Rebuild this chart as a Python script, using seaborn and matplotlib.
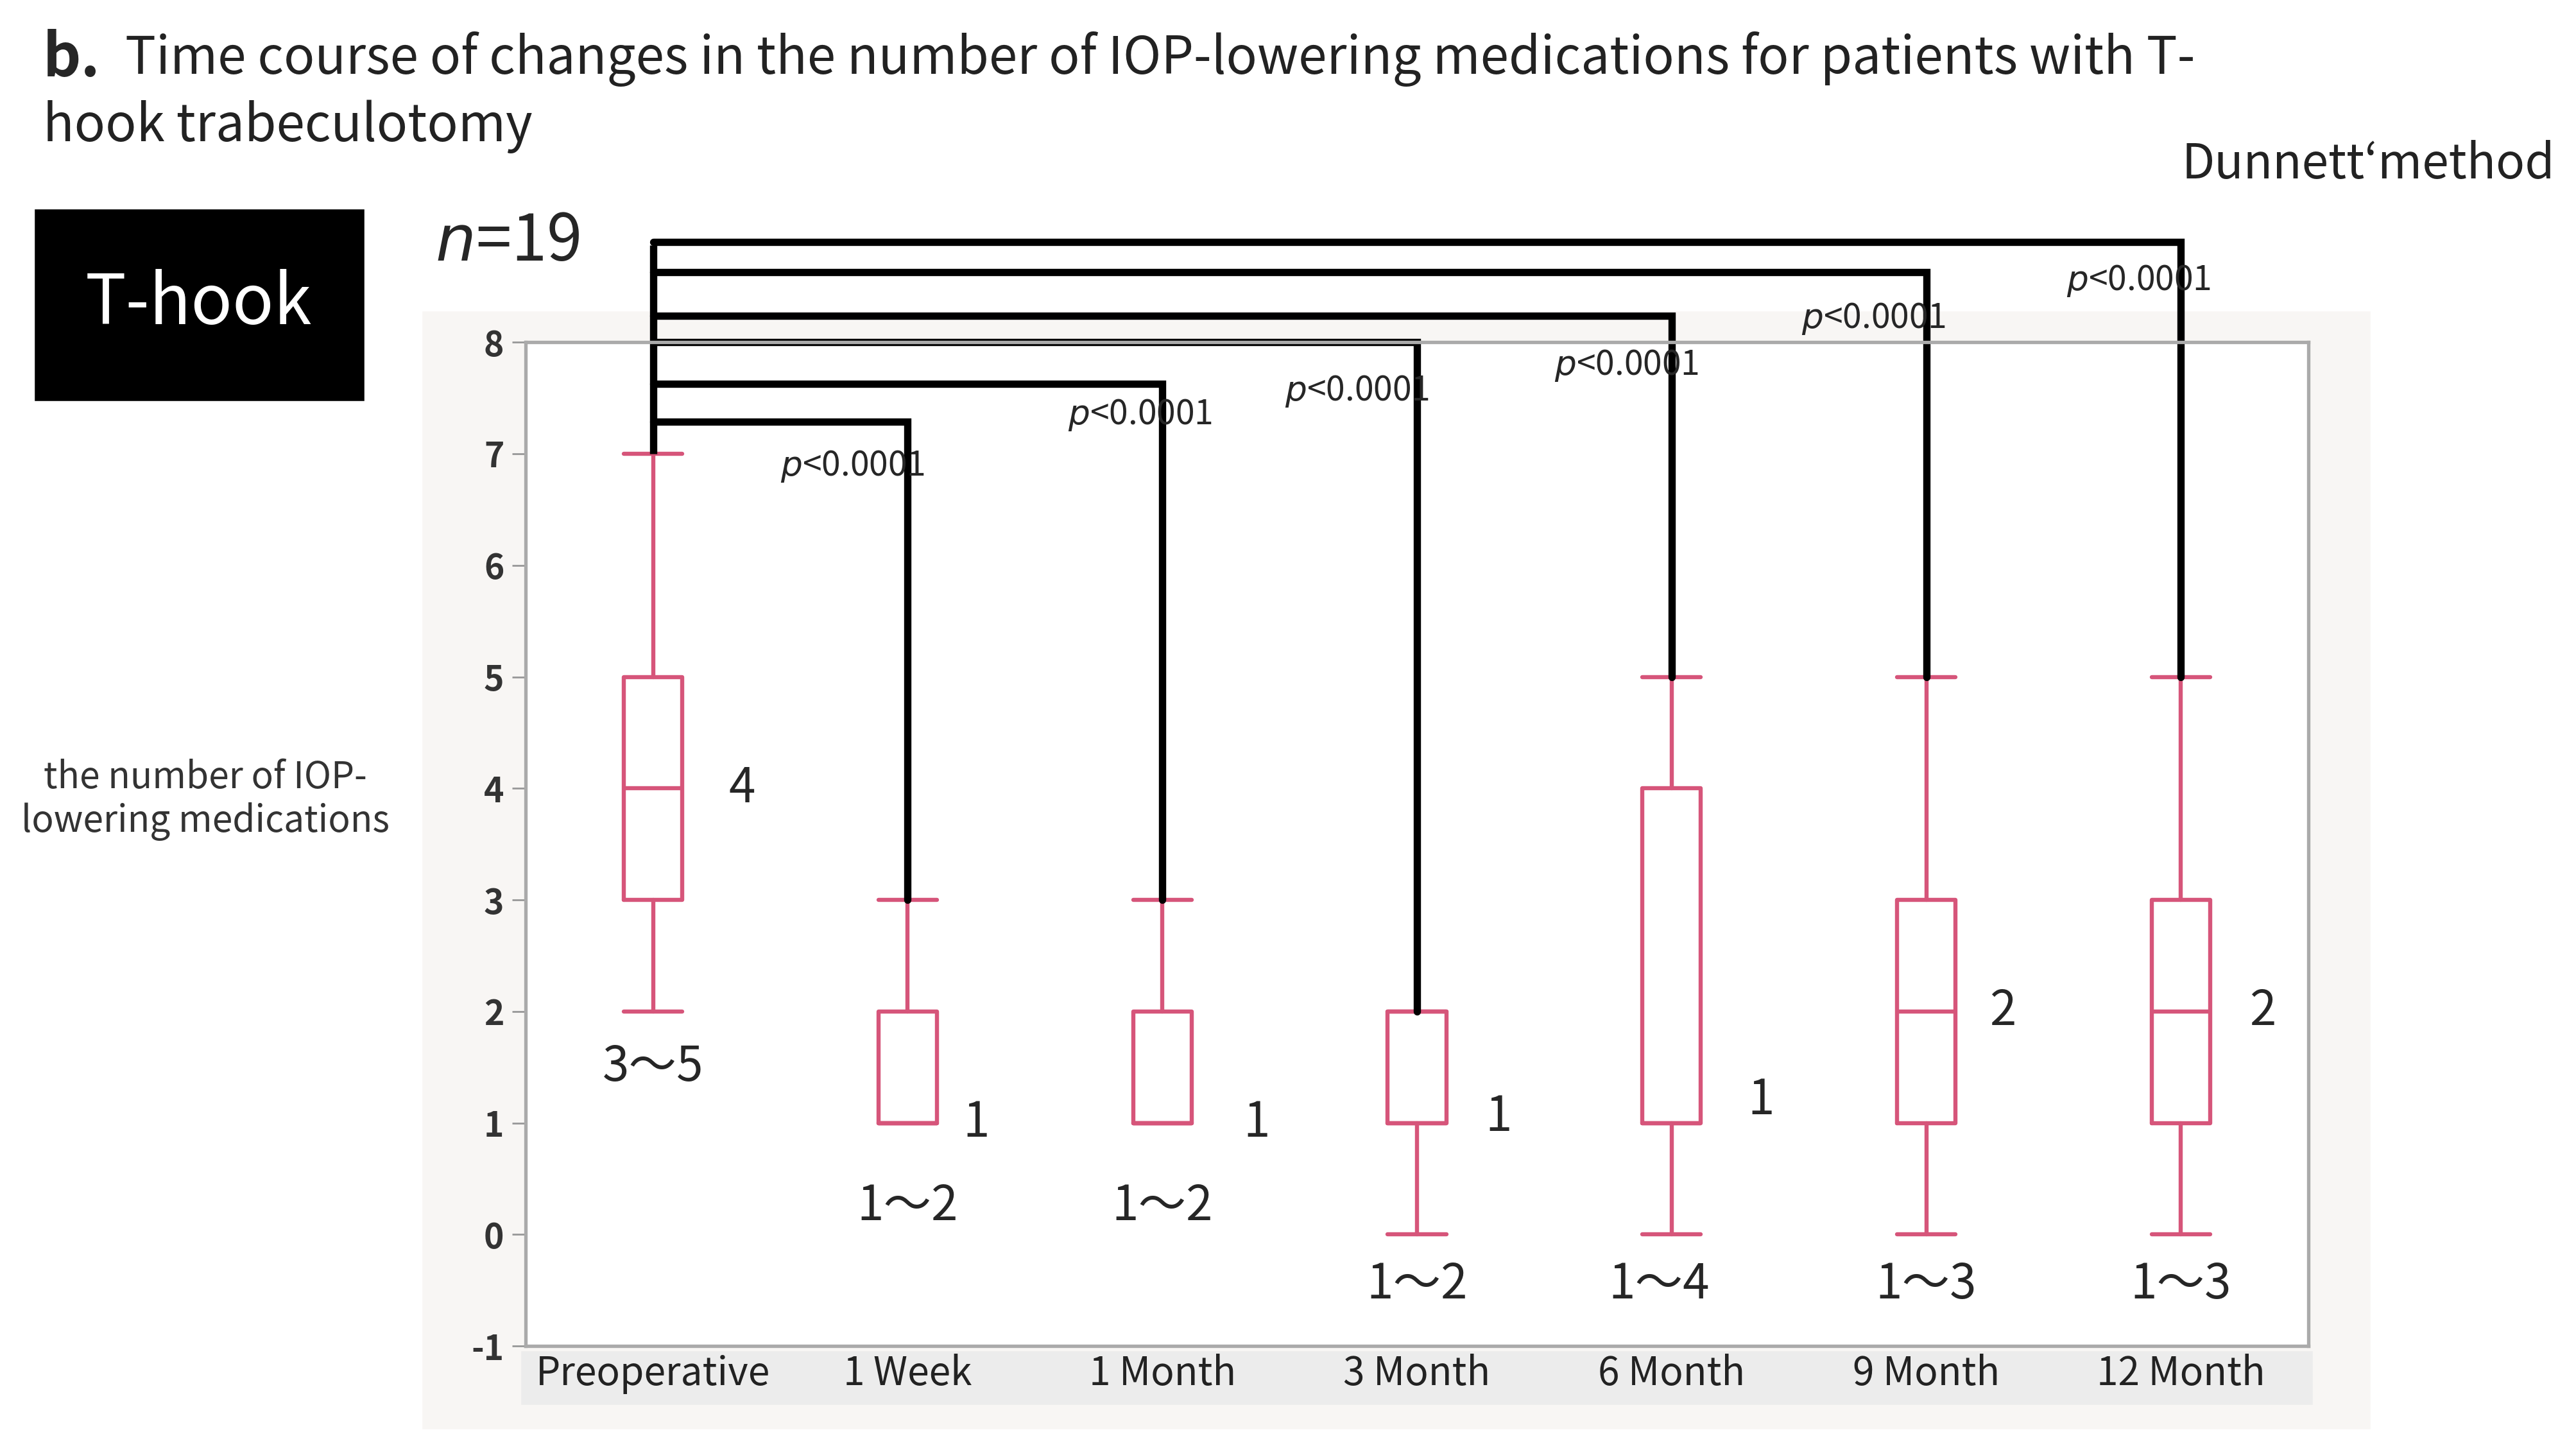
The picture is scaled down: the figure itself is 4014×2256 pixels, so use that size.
import matplotlib
matplotlib.use("Agg")
import matplotlib.pyplot as plt
import seaborn as sns
from matplotlib.patches import Rectangle

groups = ["Preoperative", "1 Week", "1 Month", "3 Month", "6 Month", "9 Month", "12 Month"]
whislo = [2, 1, 1, 0, 0, 0, 0]
q1 = [3, 1, 1, 1, 1, 1, 1]
med = [4, 1, 1, 1, 1, 2, 2]
q3 = [5, 2, 2, 2, 4, 3, 3]
whishi = [7, 3, 3, 2, 5, 5, 5]
med_labels = ["4", "1", "1", "1", "1", "2", "2"]
iqr_labels = ["3〜5", "1〜2", "1〜2", "1〜2", "1〜4", "1〜3", "1〜3"]
bracket_y = [7.29, 7.63, 8.0, 8.24, 8.63, 8.9]
p_labels = ["p<0.0001"] * 6
p_pos = [(0.5, 6.89), (1.63, 7.35), (2.48, 7.56), (3.54, 7.79), (4.51, 8.21), (5.55, 8.55)]
med_pos = [(0.35, 4), (1.27, 1.0), (2.37, 1.0), (3.32, 1.05), (4.35, 1.2), (5.3, 2), (6.32, 2)]
iqr_pos = [(0, 1.5), (1, 0.25), (2, 0.25), (3, -0.45), (3.95, -0.45), (5, -0.45), (6, -0.45)]

sns.set_style("white")
plt.rcParams['font.family'] = ['Noto Sans CJK JP', 'DejaVu Sans']
pink = "#d6557a"

fig = plt.figure(figsize=(15.68, 8.8125), dpi=256)
fig.add_artist(Rectangle((258/1568, 1-868/880), (1442-258)/1568, (868-190)/880,
                         transform=fig.transFigure, color="#f8f6f4", zorder=-2))
fig.add_artist(Rectangle((318/1568, 1-853/880), (1407-318)/1568, (853-822)/880,
                         transform=fig.transFigure, color="#ececec", zorder=-1))
ax = fig.add_axes([320/1568, 1-818/880, (1405-320)/1568, (818-208)/880])
ax.set_zorder(1)
ax.set_facecolor("white")

stats = [dict(whislo=a, q1=b, med=c, q3=d, whishi=e, label=g)
         for a, b, c, d, e, g in zip(whislo, q1, med, q3, whishi, groups)]
ax.bxp(stats, positions=range(len(groups)), widths=0.23, showfliers=False,
       boxprops=dict(color=pink, lw=1.8), whiskerprops=dict(color=pink, lw=1.8),
       capprops=dict(color=pink, lw=1.8), medianprops=dict(color=pink, lw=1.8),
       capwidths=0.23)
ax.set_ylim(-1, 8)
ax.set_xlim(-0.5, 6.5)
ax.set_yticks(range(-1, 9))
ax.set_yticklabels([str(v) for v in range(-1, 9)], fontsize=15, fontweight="bold", color="#333")
ax.set_xticklabels(groups, fontsize=17, color="#222")
ax.tick_params(axis="y", length=6, color="#999", left=True)
ax.tick_params(axis="x", length=0)
for s in ax.spines.values():
    s.set_color("#aaaaaa"); s.set_linewidth(1.5)

for (x, y), t in zip(med_pos, med_labels):
    ax.text(x, y, t, fontsize=21, ha="center", va="center")
for (x, y), t in zip(iqr_pos, iqr_labels):
    ax.text(x, y, t, fontsize=21, ha="center", va="center")

lw = 3.2
ax.plot([0, 0], [whishi[0], 8.87], color="black", lw=lw, clip_on=False, solid_capstyle="butt")
for i, y in enumerate(bracket_y):
    gx = i + 1
    ax.plot([0, gx, gx], [y, y, whishi[gx]], color="black", lw=lw, clip_on=False,
            solid_joinstyle="miter")
for (x, y), t in zip(p_pos, p_labels):
    ax.text(x, y, r"$\it{p}$<0.0001", fontsize=15, ha="left", va="center")

fig.text(125/1568, 1-486/880, "the number of IOP-\nlowering medications", fontsize=16,
         ha="center", va="center", color="#333", linespacing=1.2)
fig.text(26/1568, 1-36/880, "b.", fontsize=26, fontweight="bold", va="center")
fig.text(76/1568, 1-36/880, "Time course of changes in the number of IOP-lowering medications for patients with T-",
         fontsize=22.5, va="center", color="#222")
fig.text(26/1568, 1-77/880, "hook trabeculotomy", fontsize=22.5, va="center", color="#222")
fig.text(1328/1568, 1-100/880, "Dunnett‘method", fontsize=21, va="center", color="#222")
fig.text(265/1568, 1-147/880, r"$\it{n}$=19", fontsize=28, va="center")
fig.add_artist(Rectangle((22/1568, 1-243/880), (221-22)/1568, (243-128)/880,
                         transform=fig.transFigure, color="black", zorder=1))
fig.text(121/1568, 1-185/880, "T-hook", fontsize=30, color="white", ha="center", va="center")

fig.savefig("out.png", dpi=256)
